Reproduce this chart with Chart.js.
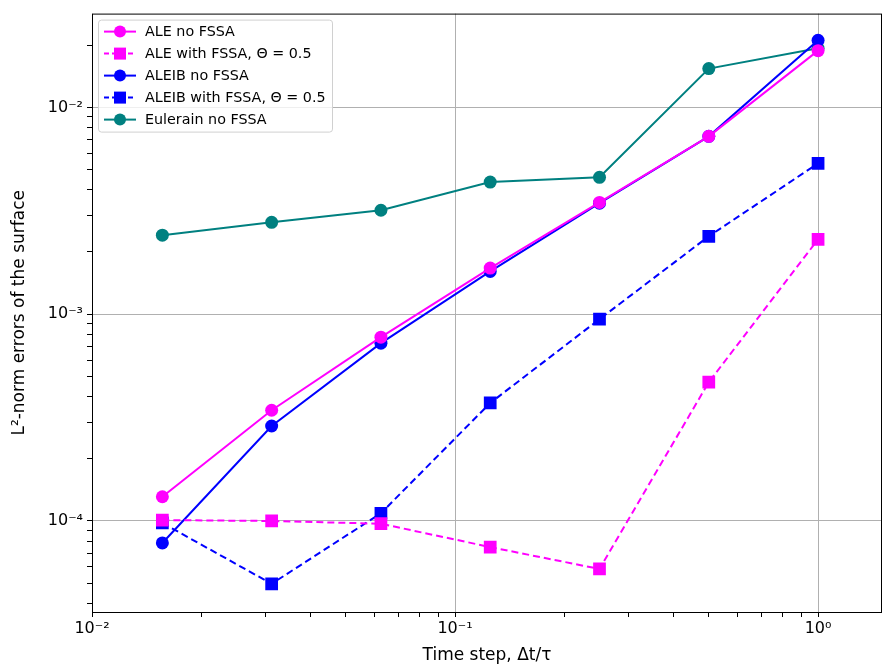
<!DOCTYPE html>
<html lang="en">
<head>
    <meta charset="UTF-8">
    <title>L2-norm errors of the surface</title>
    <script src="https://cdn.jsdelivr.net/npm/chart.js"></script>
    <style>
        body { margin: 0; background: #fff; }
        .chart-container { width: 883px; height: 670px; }
    </style>
</head>
<body>
    <div class="chart-container">
        <canvas id="errorChart" width="883" height="670"></canvas>
    </div>

    <script>
        // time steps dt/tau
        const timeSteps = [1/64, 1/32, 1/16, 1/8, 1/4, 1/2, 1];

        const aleNoFssa      = [1.31e-4, 3.43e-4, 7.74e-4, 1.67e-3, 3.47e-3, 7.24e-3, 1.88e-2];
        const aleFssa        = [1.01e-4, 1.00e-4, 9.7e-5, 7.48e-5, 5.86e-5, 4.69e-4, 2.30e-3];
        const aleibNoFssa    = [7.83e-5, 2.88e-4, 7.24e-4, 1.61e-3, 3.44e-3, 7.24e-3, 2.11e-2];
        const aleibFssa      = [9.78e-5, 4.97e-5, 1.09e-4, 3.72e-4, 9.46e-4, 2.38e-3, 5.36e-3];
        const eulerianNoFssa = [2.41e-3, 2.78e-3, 3.18e-3, 4.35e-3, 4.59e-3, 1.54e-2, 1.93e-2];

        const seriesLabels = [
            'ALE no FSSA',
            'ALE with FSSA, \u0398 = 0.5',
            'ALEIB no FSSA',
            'ALEIB with FSSA, \u0398 = 0.5',
            'Eulerain no FSSA'
        ];

        const xTickLabels = { '-2': '10\u207B\u00B2', '-1': '10\u207B\u00B9', '0': '10\u2070' };
        const yTickLabels = { '-4': '10\u207B\u2074', '-3': '10\u207B\u00B3', '-2': '10\u207B\u00B2' };

        const FONT = "'DejaVu Sans', sans-serif";

        function pts(ys) {
            return timeSteps.map((x, i) => ({ x: x, y: ys[i] }));
        }

        function series(label, ys, color, marker, dashed) {
            return {
                label: label,
                data: pts(ys),
                borderColor: color,
                backgroundColor: color,
                borderWidth: 2,
                borderDash: dashed ? [7, 4] : [],
                pointStyle: marker,
                // chart.js rect side = 2 * r * sqrt(1/2)
                pointRadius: marker === 'rect' ? 9 : 6.5,
                pointBorderWidth: 0,
                pointHoverRadius: 6.5,
                tension: 0
            };
        }

        function isMajor(v) {
            const l = Math.log10(v);
            return Math.abs(l - Math.round(l)) < 1e-6;
        }

        function gridColor(c) {
            return c.tick && isMajor(c.tick.value) ? '#b0b0b0' : 'rgba(0,0,0,0)';
        }

        // 1..9 x 10^k ticks inside the range
        function logTicks(scale) {
            const ticks = [];
            for (let e = -6; e <= 1; e++) {
                for (let m = 1; m <= 9; m++) {
                    const v = m * Math.pow(10, e);
                    if (v >= scale.min * 0.9999 && v <= scale.max * 1.0001) ticks.push({ value: v });
                }
            }
            scale.ticks = ticks;
        }

        // box around the plot area
        const frame = {
            id: 'frame',
            afterDraw(chart) {
                const a = chart.chartArea, ctx = chart.ctx;
                ctx.save();
                ctx.strokeStyle = '#000';
                ctx.lineWidth = 1;
                ctx.strokeRect(a.left + 0.5, a.top + 0.5, a.right - a.left - 1, a.bottom - a.top);
                ctx.restore();
            }
        };

        // legend drawn inside the upper-left corner
        const insideLegend = {
            id: 'insideLegend',
            afterDraw(chart) {
                const ctx = chart.ctx;
                const a = chart.chartArea;
                const x0 = a.left + 6, y0 = a.top + 6;
                const w = 234, rowH = 22;
                const h = rowH * chart.data.datasets.length + 2;
                ctx.save();
                ctx.fillStyle = 'rgba(255,255,255,0.8)';
                ctx.strokeStyle = '#d0d0d0';
                ctx.lineWidth = 1;
                ctx.beginPath();
                ctx.roundRect(x0 + 0.5, y0 + 0.5, w, h, 3);
                ctx.fill();
                ctx.stroke();
                ctx.font = '14.3px ' + FONT;
                ctx.textBaseline = 'middle';
                chart.data.datasets.forEach((ds, i) => {
                    const cy = y0 + 12 + i * rowH;
                    ctx.strokeStyle = ds.borderColor;
                    ctx.fillStyle = ds.borderColor;
                    ctx.lineWidth = 2;
                    ctx.setLineDash(ds.borderDash.length ? [5, 3] : []);
                    ctx.beginPath();
                    ctx.moveTo(x0 + 6, cy);
                    ctx.lineTo(x0 + 38, cy);
                    ctx.stroke();
                    ctx.setLineDash([]);
                    ctx.beginPath();
                    if (ds.pointStyle === 'rect') {
                        ctx.rect(x0 + 22 - 6, cy - 6, 12, 12);
                    } else {
                        ctx.arc(x0 + 22, cy, 6, 0, Math.PI * 2);
                    }
                    ctx.fill();
                    ctx.fillStyle = '#000';
                    ctx.fillText(ds.label, x0 + 47, cy + 1);
                });
                ctx.restore();
            }
        };

        const ctx = document.getElementById('errorChart').getContext('2d');
        new Chart(ctx, {
            type: 'line',
            data: {
                datasets: [
                    series(seriesLabels[0], aleNoFssa, '#ff00ff', 'circle', false),
                    series(seriesLabels[1], aleFssa, '#ff00ff', 'rect', true),
                    series(seriesLabels[2], aleibNoFssa, '#0000ff', 'circle', false),
                    series(seriesLabels[3], aleibFssa, '#0000ff', 'rect', true),
                    series(seriesLabels[4], eulerianNoFssa, '#008080', 'circle', false)
                ]
            },
            options: {
                responsive: false,
                animation: false,
                layout: { autoPadding: false, padding: { left: 6, top: 13, right: 1, bottom: 0 } },
                plugins: {
                    legend: { display: false },
                    tooltip: { enabled: false }
                },
                scales: {
                    x: {
                        type: 'logarithmic',
                        min: 0.01,
                        max: 1.5,
                        afterBuildTicks: logTicks,
                        afterFit: s => { s.height = 58; s.paddingLeft = 0; s.paddingRight = 0; },
                        border: { display: false },
                        grid: {
                            color: gridColor,
                            tickColor: '#000',
                            tickLength: 5,
                            lineWidth: 1
                        },
                        ticks: {
                            autoSkip: false,
                            maxRotation: 0,
                            color: '#000',
                            font: { family: FONT, size: 16 },
                            padding: 2,
                            callback: v => isMajor(v) ? xTickLabels[Math.round(Math.log10(v))] : ''
                        },
                        title: {
                            display: true,
                            text: 'Time step, \u0394t/\u03C4',
                            color: '#000',
                            font: { family: FONT, size: 17 },
                            padding: { top: 0 }
                        }
                    },
                    y: {
                        type: 'logarithmic',
                        min: 3.63e-5,
                        max: 2.84e-2,
                        afterBuildTicks: logTicks,
                        afterFit: s => { s.width = 86; },
                        border: { display: false },
                        grid: {
                            color: gridColor,
                            tickColor: '#000',
                            tickLength: 5,
                            lineWidth: 1
                        },
                        ticks: {
                            autoSkip: false,
                            color: '#000',
                            font: { family: FONT, size: 16 },
                            padding: 4,
                            callback: v => isMajor(v) ? yTickLabels[Math.round(Math.log10(v))] : ''
                        },
                        title: {
                            display: true,
                            text: 'L\u00B2-norm errors of the surface',
                            color: '#000',
                            font: { family: FONT, size: 17 },
                            padding: { top: 3, bottom: 4 }
                        }
                    }
                }
            },
            plugins: [frame, insideLegend]
        });
    </script>
</body>
</html>
